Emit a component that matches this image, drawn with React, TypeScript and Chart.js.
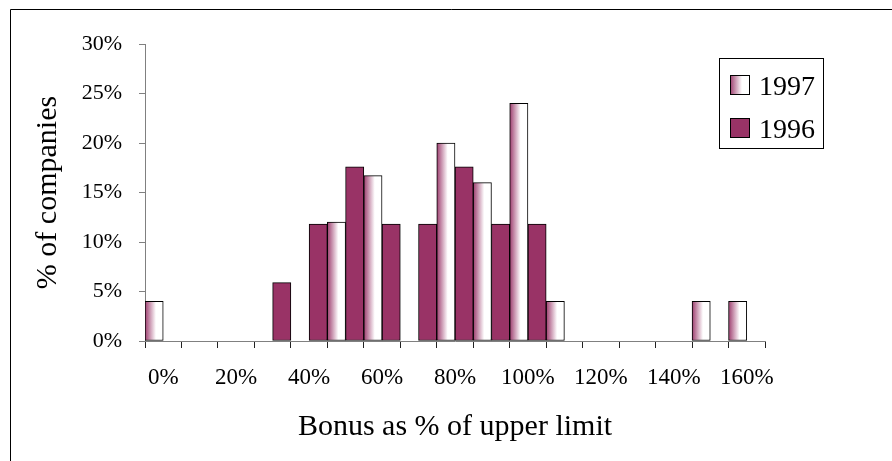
import React, { useEffect, useRef } from "react";
import { Chart, registerables } from "chart.js";

Chart.register(...registerables);

// Bonus bands (x axis) and share of companies per band, in percent
const categories = [
  "0%", "10%", "20%", "30%", "40%", "50%", "60%", "70%", "80%",
  "90%", "100%", "110%", "120%", "130%", "140%", "150%", "160%",
];
const series1997: (number | null)[] = [
  4, null, null, null, null, 12, 16.7, null, 20, 16, 24, 4, null, null, null, 4, 4,
];
const series1996: (number | null)[] = [
  null, null, null, 5.9, 11.8, 17.6, 11.8, 11.8, 17.6, 11.8, 11.8, null, null, null, null, null, null,
];
const seriesNames = ["1997", "1996"];
const yTicks = [0, 5, 10, 15, 20, 25, 30];

const MAROON = "#993366";
const SERIF = '"Liberation Serif", "Times New Roman", serif';

function fadeFill(ctx: CanvasRenderingContext2D, left: number, width: number) {
  const g = ctx.createLinearGradient(left, 0, left + width, 0);
  g.addColorStop(0, "#9d3d6e");
  g.addColorStop(0.6, "#ffffff");
  g.addColorStop(1, "#ffffff");
  return g;
}

// Frame lines and the boxed legend
const decorPlugin = {
  id: "decor",
  afterDraw(chart: any) {
    const ctx: CanvasRenderingContext2D = chart.ctx;
    ctx.save();
    ctx.strokeStyle = "#000";
    ctx.lineWidth = 1;
    ctx.beginPath();
    ctx.moveTo(10.5, 461);
    ctx.lineTo(10.5, 9.5);
    ctx.lineTo(892, 9.5);
    ctx.stroke();

    ctx.strokeRect(719.5, 58.5, 104, 90);
    const rows = [
      { i: 0, top: 75, base: 94.5 },
      { i: 1, top: 118, base: 137.5 },
    ];
    ctx.font = `28px ${SERIF}`;
    ctx.textBaseline = "alphabetic";
    ctx.textAlign = "left";
    for (const r of rows) {
      ctx.fillStyle = r.i === 0 ? fadeFill(ctx, 730, 20) : MAROON;
      ctx.fillRect(730, r.top, 20, 20);
      ctx.strokeRect(730.5, r.top + 0.5, 19, 19);
      ctx.fillStyle = "#000";
      ctx.fillText(chart.data.datasets[r.i].label, 759, r.base);
    }
    ctx.restore();
  },
};

export default function App() {
  const ref = useRef<HTMLCanvasElement | null>(null);

  useEffect(() => {
    if (!ref.current) return;
    const chart = new Chart(ref.current, {
      type: "bar",
      data: {
        labels: categories,
        datasets: [
          {
            label: seriesNames[0],
            data: series1997,
            backgroundColor: (c: any) => {
              const xs = c.chart.scales?.x;
              if (!xs || !c.chart.chartArea) return "#ffffff";
              const w = xs.width / categories.length;
              const left = xs.getPixelForValue(c.dataIndex) - w / 2;
              return fadeFill(c.chart.ctx, left, w / 2);
            },
            borderColor: "#000",
            borderWidth: 1,
            borderSkipped: false,
          },
          {
            label: seriesNames[1],
            data: series1996,
            backgroundColor: MAROON,
            borderColor: "#000",
            borderWidth: 1,
            borderSkipped: false,
          },
        ],
      },
      options: {
        responsive: false,
        animation: false,
        datasets: { bar: { barPercentage: 1, categoryPercentage: 1 } },
        layout: { padding: { left: 12, top: 44, right: 127, bottom: 0 } },
        plugins: {
          legend: { display: false },
          tooltip: { enabled: false },
        },
        scales: {
          x: {
            afterFit: (s: any) => {
              s.height = 120;
            },
            grid: {
              display: true,
              drawOnChartArea: false,
              drawTicks: true,
              tickLength: 7,
              color: "#222",
              offset: true,
            },
            border: { display: true, color: "#808080", width: 1 },
            ticks: {
              autoSkip: false,
              maxRotation: 0,
              padding: 16,
              color: "#000",
              font: { family: SERIF, size: 23 },
              callback: (_v: any, i: number) => (i % 2 === 0 ? categories[i] : ""),
            },
            title: {
              display: true,
              text: "Bonus as % of upper limit",
              color: "#000",
              font: { family: SERIF, size: 30 },
              padding: { top: 0, bottom: 16 },
            },
          },
          y: {
            min: yTicks[0],
            max: yTicks[yTicks.length - 1],
            afterFit: (s: any) => {
              s.width = 133;
            },
            afterBuildTicks: (s: any) => {
              s.ticks = yTicks.map((v) => ({ value: v }));
            },
            grid: {
              display: true,
              drawOnChartArea: false,
              drawTicks: true,
              tickLength: 6,
              color: "#808080",
            },
            border: { display: true, color: "#808080", width: 1 },
            ticks: {
              padding: 17,
              color: "#000",
              font: { family: SERIF, size: 22 },
              callback: (v: any) => `${v}%`,
            },
            title: {
              display: true,
              text: "% of companies",
              color: "#000",
              font: { family: SERIF, size: 30 },
              padding: { top: 18, bottom: 0 },
            },
          },
        },
      },
      plugins: [decorPlugin],
    });
    return () => chart.destroy();
  }, []);

  return (
    <div style={{ position: "absolute", left: 0, top: 0, width: 892, height: 461, background: "#fff" }}>
      <canvas ref={ref} width={892} height={461} style={{ display: "block" }} />
    </div>
  );
}
